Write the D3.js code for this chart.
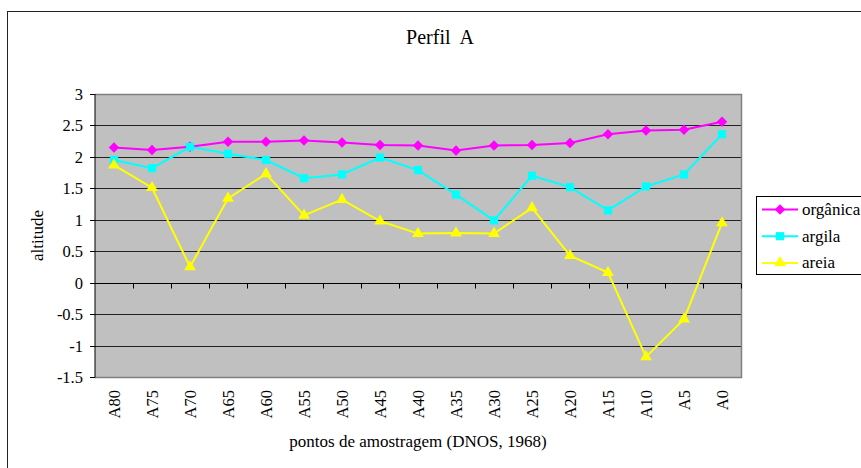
<!DOCTYPE html>
<html>
<head>
<meta charset="utf-8">
<script src="https://cdn.jsdelivr.net/npm/d3@7"></script>
<style>
  html, body { margin: 0; padding: 0; background: #fff; }
  svg { display: block; }
  svg text { font-family: "Liberation Serif", "Times New Roman", serif; }
</style>
</head>
<body>
<svg id="chart" width="861" height="468"></svg>
<script>
// Sampling points along profile A and the three measured series
const categories = ["A80","A75","A70","A65","A60","A55","A50","A45","A40","A35","A30","A25","A20","A15","A10","A5","A0"];
const organica = [2.15, 2.11, 2.16, 2.24, 2.24, 2.26, 2.23, 2.19, 2.18, 2.10, 2.18, 2.19, 2.22, 2.36, 2.42, 2.43, 2.56];
const argila   = [1.95, 1.82, 2.16, 2.05, 1.95, 1.66, 1.72, 1.99, 1.79, 1.40, 0.99, 1.70, 1.52, 1.15, 1.53, 1.72, 2.36];
const areia    = [1.87, 1.51, 0.25, 1.34, 1.73, 1.07, 1.32, 0.98, 0.78, 0.79, 0.78, 1.19, 0.43, 0.16, -1.18, -0.58, 0.95];
const yTicks   = [-1.5, -1, -0.5, 0, 0.5, 1, 1.5, 2, 2.5, 3];
const seriesNames = ["orgânica", "argila", "areia"];

const FONT = "'Liberation Serif', 'Times New Roman', serif";

const series = [
  { name: seriesNames[0], values: organica, color: "#FF00FF", symbol: d3.symbolDiamond2, size: 70 },
  { name: seriesNames[1], values: argila,   color: "#00FFFF", symbol: d3.symbolSquare2,  size: 85 },
  { name: seriesNames[2], values: areia,    color: "#FFFF00", symbol: d3.symbolTriangle, size: 60 }
];

const svg = d3.select("#chart");

// Outer chart frame
svg.append("rect")
  .attr("x", 7.5).attr("y", 11.5)
  .attr("width", 900).attr("height", 500)
  .attr("fill", "#fff").attr("stroke", "#222").attr("stroke-width", 1);

const plot = { left: 95, top: 94, right: 741, bottom: 377 };

const x = d3.scalePoint().domain(categories).range([plot.left, plot.right]).padding(0.5);
const y = d3.scaleLinear().domain([-1.5, 3]).range([plot.bottom, plot.top]);

// Plot background
svg.append("rect")
  .attr("x", plot.left).attr("y", plot.top)
  .attr("width", plot.right - plot.left).attr("height", plot.bottom - plot.top)
  .attr("fill", "#C0C0C0");

// Horizontal gridlines
svg.append("g").selectAll("line")
  .data(yTicks.filter(d => d !== -1.5 && d !== 3 && d !== 0))
  .join("line")
  .attr("x1", plot.left).attr("x2", plot.right)
  .attr("y1", d => Math.round(y(d)) + 0.5).attr("y2", d => Math.round(y(d)) + 0.5)
  .attr("stroke", "#222").attr("stroke-width", 1);

// Plot border (top, right, bottom)
svg.append("path")
  .attr("d", `M${plot.left},${plot.top + 0.5}H${plot.right + 0.5}V${plot.bottom + 0.5}H${plot.left}`)
  .attr("fill", "none").attr("stroke", "#808080").attr("stroke-width", 1.5);

// Y axis
const yAxis = svg.append("g")
  .attr("transform", `translate(${plot.left},0)`)
  .call(d3.axisLeft(y).tickValues(yTicks).tickSize(5).tickPadding(7).tickFormat(d => String(d)));
yAxis.attr("font-family", FONT).attr("font-size", 16.5);
yAxis.selectAll("text").attr("fill", "#000");
yAxis.selectAll("line").attr("stroke", "#000");
yAxis.select(".domain").attr("stroke", "#000").attr("d", `M0,${plot.top}V${plot.bottom + 0.5}`);
yAxis.selectAll(".tick").attr("transform", d => `translate(0,${Math.round(y(d)) + 0.5})`);

// X axis line at zero with ticks between categories
const step = x.step();
const y0 = Math.round(y(0)) + 0.5;
const xAxis = svg.append("g");
xAxis.append("line")
  .attr("x1", plot.left).attr("x2", plot.right)
  .attr("y1", y0).attr("y2", y0)
  .attr("stroke", "#000");
xAxis.selectAll("line.tick")
  .data(d3.range(1, categories.length + 1))
  .join("line").attr("class", "tick")
  .attr("x1", i => Math.round(plot.left + i * step) + 0.5)
  .attr("x2", i => Math.round(plot.left + i * step) + 0.5)
  .attr("y1", y0).attr("y2", y0 + 5)
  .attr("stroke", "#000");

// Category labels, rotated, below the plot
svg.append("g").selectAll("text")
  .data(categories)
  .join("text")
  .attr("transform", d => `translate(${x(d) + 6},${plot.bottom + 13}) rotate(-90)`)
  .attr("text-anchor", "end")
  .attr("font-size", 16.5)
  .attr("fill", "#000")
  .text(d => d);

// Series lines and markers
series.forEach(s => {
  const line = d3.line().x((d, i) => x(categories[i])).y(d => y(d));
  svg.append("path")
    .datum(s.values)
    .attr("d", line)
    .attr("fill", "none")
    .attr("stroke", s.color)
    .attr("stroke-width", 2);
  svg.append("g").selectAll("path")
    .data(s.values)
    .join("path")
    .attr("transform", (d, i) => `translate(${x(categories[i])},${y(d)})`)
    .attr("d", d3.symbol(s.symbol, s.size))
    .attr("fill", s.color);
});

// Titles
svg.append("text")
  .attr("x", 440).attr("y", 44)
  .attr("text-anchor", "middle")
  .attr("font-size", 20)
  .attr("xml:space", "preserve")
  .style("white-space", "pre")
  .text("Perfil  A");

svg.append("text")
  .attr("x", (plot.left + plot.right) / 2).attr("y", 447)
  .attr("text-anchor", "middle")
  .attr("font-size", 17)
  .text("pontos de amostragem (DNOS, 1968)");

svg.append("text")
  .attr("transform", `translate(43,${(plot.top + plot.bottom) / 2}) rotate(-90)`)
  .attr("text-anchor", "middle")
  .attr("font-size", 17)
  .text("altitude");

// Legend
const legend = svg.append("g");
legend.append("rect")
  .attr("x", 756.5).attr("y", 196.5)
  .attr("width", 130).attr("height", 78)
  .attr("fill", "#fff").attr("stroke", "#000").attr("stroke-width", 1);
series.forEach((s, i) => {
  const ly = 209.5 + i * 26.7;
  legend.append("line")
    .attr("x1", 762).attr("x2", 798)
    .attr("y1", ly).attr("y2", ly)
    .attr("stroke", s.color).attr("stroke-width", 2);
  legend.append("path")
    .attr("transform", `translate(780,${ly})`)
    .attr("d", d3.symbol(s.symbol, s.size))
    .attr("fill", s.color);
  legend.append("text")
    .attr("x", 802).attr("y", ly + 5.5)
    .attr("font-size", 17)
    .text(s.name);
});

// Serif face on every label
svg.selectAll("text").attr("font-family", FONT);
</script>
</body>
</html>
